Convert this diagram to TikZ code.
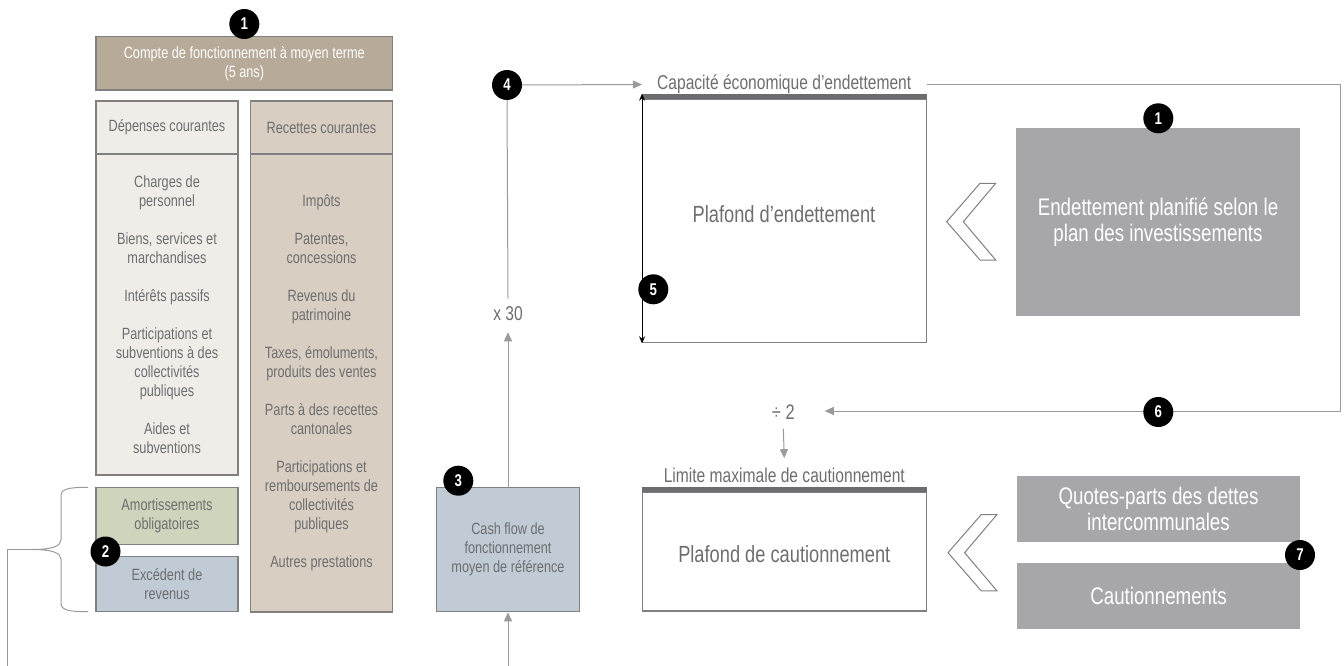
\documentclass[tikz,border=0pt]{standalone}
\usepackage{fontspec}
\setmainfont{Liberation Sans}[FakeStretch=0.78]
\usetikzlibrary{arrows.meta}
\definecolor{txt}{HTML}{6E6E70}
\definecolor{bord}{HTML}{808080}
\definecolor{lin}{HTML}{9A9A9A}
\definecolor{topc}{HTML}{B7AA98}
\definecolor{depc}{HTML}{F0EDE9}
\definecolor{recc}{HTML}{D8CEC2}
\definecolor{amoc}{HTML}{CDD5BC}
\definecolor{bluc}{HTML}{C0CBD5}
\definecolor{gryc}{HTML}{A7A7AA}
\definecolor{barc}{HTML}{6D6D70}
\begin{document}
\begin{tikzpicture}[x=1pt,y=-1pt,
  box/.style={draw=bord, line width=1.3pt, rectangle, inner sep=2pt, align=center, text=txt,
    font=\fontsize{16.3}{19}\selectfont},
  gbox/.style={fill=gryc, rectangle, inner sep=2pt, align=center, text=white,
    font=\fontsize{24}{26}\selectfont},
  badge/.style={circle, fill=black, minimum size=30pt, inner sep=0pt, text=white,
    font=\fontsize{17}{17}\selectfont\bfseries},
  conn/.style={draw=lin, line width=1pt},
  arr/.style={conn, -{Triangle[length=9pt,width=8pt]}, color=lin},
  chev/.style={draw=bord, line width=1pt, fill=white},
  lbl/.style={text=txt, inner sep=1pt, font=\fontsize{20}{22}\selectfont}
]
\useasboundingbox (0,0) rectangle (1344,666);

% ---- left accounting block
\node[box, fill=topc, text=white, minimum width=296.7pt, minimum height=53.3pt] (top) at (244.3,63.5)
  {Compte de fonctionnement à moyen terme\\(5 ans)};
\node[badge] (b1a) at (244.3,24) {1};

\node[box, fill=depc, minimum width=142pt, minimum height=53pt] (deph) at (167,127.5) {Dépenses courantes};
\node[box, fill=depc, minimum width=142pt, minimum height=321pt] (depb) at (167,314.5)
  {Charges de\\personnel\\[19pt]Biens, services et\\marchandises\\[19pt]Intérêts passifs\\[19pt]Participations et\\subventions à des\\collectivités\\publiques\\[19pt]Aides et\\subventions};
\node[box, fill=recc, minimum width=142.5pt, minimum height=53pt] (rech) at (321.5,127.5) {Recettes courantes};
\node[box, fill=recc, minimum width=142.5pt, minimum height=458pt] (recb) at (321.5,383)
  {Impôts\\[19pt]Patentes,\\concessions\\[19pt]Revenus du\\patrimoine\\[19pt]Taxes, émoluments,\\produits des ventes\\[19pt]Parts à des recettes\\cantonales\\[19pt]Participations et\\remboursements de\\collectivités\\publiques\\[19pt]Autres prestations};

\node[box, fill=amoc, minimum width=142pt, minimum height=57pt] (amo) at (167,515.8) {Amortissements\\obligatoires};
\node[box, fill=bluc, minimum width=142pt, minimum height=55pt] (exc) at (167,584.2) {Excédent de\\revenus};
\node[badge] (b2) at (105.5,551.5) {2};

% brace
\coordinate (btip) at (33,549.5);
\draw[conn] (88,487.3) .. controls (68,487.3) and (61,489) .. (61,496)
  -- (61,540) .. controls (61,546) and (52,549.5) .. (btip)
  .. controls (52,549.5) and (61,553) .. (61,559)
  -- (61,603) .. controls (61,610) and (68,611.7) .. (88,611.7);
\coordinate (lcorner) at (7.3,549.5);
\coordinate (lbottom) at (7.3,666);
\draw[conn] (btip) -- (lcorner) -- (lbottom);

% ---- cash flow
\node[box, fill=bluc, minimum width=142.6pt, minimum height=124.4pt] (cash) at (508,549.5)
  {Cash flow de\\fonctionnement\\moyen de référence};
\node[badge] (b3) at (458.3,480.7) {3};
\coordinate (cbottom) at (508,666);
\draw[arr] (cbottom) -- (cash.south);

\node[lbl] (x30) at (508,314) {x 30};
\node[badge] (b4) at (507,85) {4};
\draw[arr] (cash.north) -- ([yshift=-10pt]x30.south);
\draw[conn] ([yshift=7pt]x30.north) -- (b4.south);

% ---- plafond d'endettement
\node[lbl] (cap) at (784.2,84.5) {Capacité économique d’endettement};
\draw[arr] (b4.east) -- ([xshift=-14pt]cap.west);
\node[draw=bord, line width=1.3pt, minimum width=284pt, minimum height=243.4pt, inner sep=0pt] (pe) at (784.7,221) {};
\fill[barc] (pe.north west) rectangle ([yshift=5pt]pe.north east);
\node[text=txt, font=\fontsize{23.4}{26}\selectfont] (pet) at (784,214) {Plafond d’endettement};
\draw[black, line width=1pt, {Stealth[length=7pt,width=6pt]}-{Stealth[length=7pt,width=6pt]}] ([yshift=5pt]pe.north west) -- (pe.south west);
\node[badge] (b5) at (653.3,289.3) {5};

% chevron 1
\draw[chev] (980,183.3) -- (995.7,183.3) -- (963.3,221.7) -- (995.7,260) -- (980,260) -- (946.7,221.7) -- cycle;

\node[gbox, minimum width=284pt, minimum height=188pt] (endp) at (1158,222)
  {Endettement planifié selon le\\plan des investissements};
\node[badge] (b1b) at (1158.3,118.3) {1};

% feedback loop
\coordinate (r1) at (926.7,84.5);
\coordinate (r2) at (1340,84.5);
\coordinate (r3) at (1340,411);
\node[lbl, font=\fontsize{21}{22}\selectfont] (div) at (783.3,412) {÷ 2};
\draw[arr] (r1) -- (r2) -- (r3) -- ([xshift=29pt]div.east |- r3);
\node[badge] (b6) at (1158.3,412) {6};

% ---- plafond de cautionnement
\node[lbl] (lim) at (784.3,475.7) {Limite maximale de cautionnement};
\draw[arr] ([yshift=-8pt]div.south) -- ([yshift=9pt]lim.north);
\node[draw=bord, line width=1.3pt, minimum width=284.4pt, minimum height=118.3pt, inner sep=0pt] (pc) at (784.5,551.9) {};
\fill[barc] (pc.north west) rectangle ([yshift=5pt]pc.north east);
\node[text=txt, font=\fontsize{23.4}{26}\selectfont] (pct) at (784.3,554.3) {Plafond de cautionnement};

% chevron 2
\draw[chev] (981.3,514.5) -- (997,514.5) -- (964.6,552.7) -- (997,590.9) -- (981.3,590.9) -- (948,552.7) -- cycle;

\node[gbox, minimum width=283pt, minimum height=66.6pt] (qp) at (1158.5,509)
  {Quotes-parts des dettes\\intercommunales};
\node[gbox, minimum width=283pt, minimum height=66.6pt] (cau) at (1158.5,596)
  {Cautionnements};
\node[badge] (b7) at (1300,555) {7};
\end{tikzpicture}
\end{document}
